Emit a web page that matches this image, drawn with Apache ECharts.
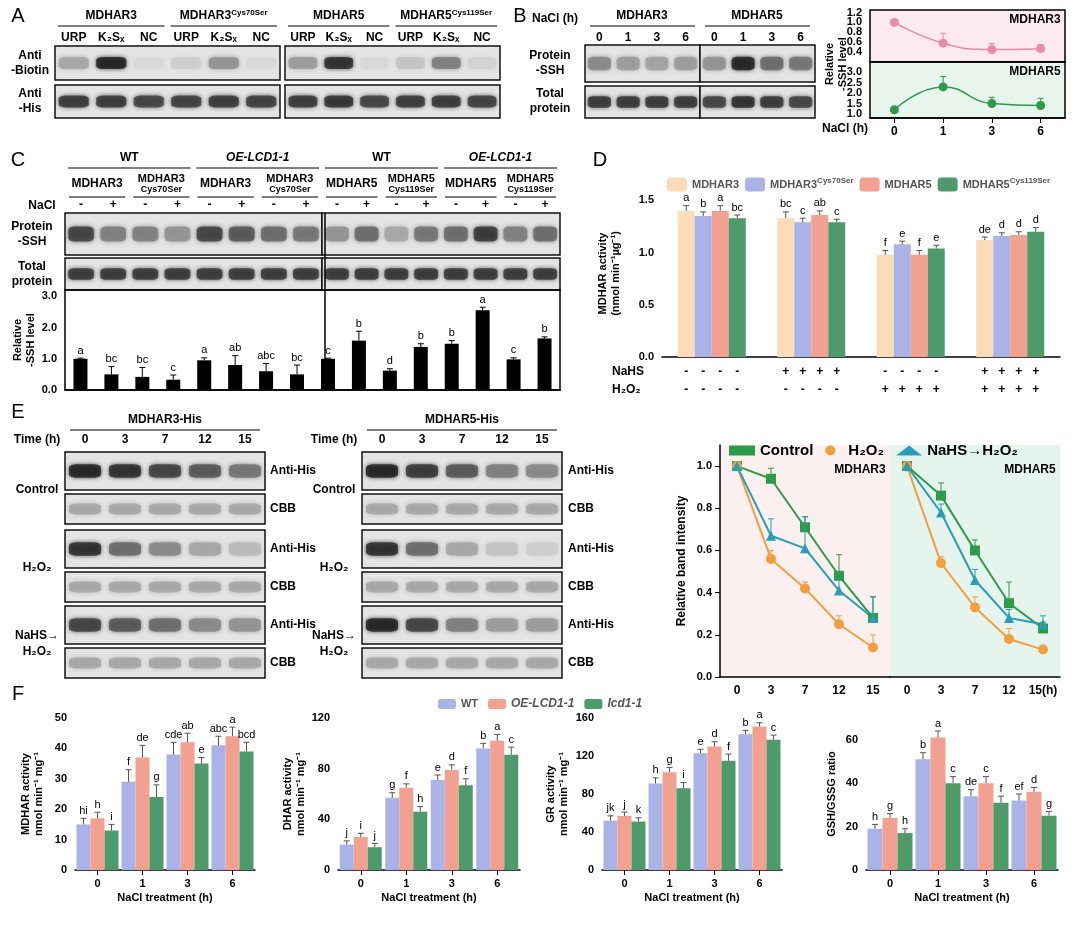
<!DOCTYPE html>
<html>
<head>
<meta charset="UTF-8">
<script src="https://cdn.jsdelivr.net/npm/echarts@6/dist/echarts.min.js"></script>
<style>
body{margin:0;background:#fff}
#main{width:1080px;height:926px}
</style>
</head>
<body>
<div id="main"></div>
<script>
// ---------- data ----------
// A: band intensity (0-1) per lane
var aBiotin1 = [0.30, 0.95, 0.05, 0.10, 0.40, 0.05];
var aBiotin2 = [0.35, 0.90, 0.05, 0.15, 0.50, 0.08];
var aHis1 = [0.85, 0.85, 0.80, 0.82, 0.85, 0.82];
var aHis2 = [0.85, 0.88, 0.80, 0.84, 0.85, 0.82];
// B
var bSSH1 = [0.45, 0.35, 0.32, 0.35];
var bSSH2 = [0.40, 0.95, 0.60, 0.55];
var bTotal1 = [0.85, 0.85, 0.85, 0.85];
var bTotal2 = [0.80, 0.90, 0.85, 0.80];
var bTime = ['0', '1', '3', '6'];
var bM3 = [1.0, 0.58, 0.45, 0.47];
var bM3err = [0.05, 0.2, 0.12, 0.08];
var bM5 = [1.2, 2.3, 1.5, 1.4];
var bM5err = [0.1, 0.5, 0.3, 0.35];
// C
var cSSH1 = [0.80, 0.50, 0.50, 0.40, 0.80, 0.70, 0.60, 0.55];
var cSSH2 = [0.40, 0.60, 0.30, 0.55, 0.60, 0.85, 0.50, 0.60];
var cTotal1 = [0.85, 0.85, 0.85, 0.85, 0.85, 0.85, 0.85, 0.85];
var cTotal2 = [0.85, 0.85, 0.85, 0.85, 0.85, 0.85, 0.85, 0.85];
var cVals = [1.0, 0.5, 0.42, 0.33, 0.95, 0.8, 0.6, 0.5, 1.0, 1.58, 0.62, 1.38, 1.48, 2.55, 0.98, 1.65];
var cErr = [0.02, 0.25, 0.3, 0.15, 0.08, 0.3, 0.25, 0.3, 0.02, 0.3, 0.06, 0.1, 0.1, 0.1, 0.05, 0.05];
var cLet = ['a','bc','bc','c','a','ab','abc','bc','c','b','d','b','b','a','c','b'];
// D
var dNames = ['MDHAR3', 'MDHAR3Cys70Ser', 'MDHAR5', 'MDHAR5Cys119Ser'];
var dVals = [[1.40,1.33,0.98,1.12],[1.35,1.29,1.08,1.16],[1.40,1.36,0.98,1.17],[1.33,1.29,1.04,1.20]];
var dErr = [[0.05,0.06,0.04,0.03],[0.04,0.04,0.03,0.03],[0.05,0.04,0.04,0.03],[0.03,0.03,0.03,0.04]];
var dLet = [['a','bc','f','de'],['b','c','e','d'],['a','ab','f','d'],['bc','c','e','d']];
var dNaHS = ['-','-','-','-','+','+','+','+','-','-','-','-','+','+','+','+'];
var dH2O2 = ['-','-','-','-','-','-','-','-','+','+','+','+','+','+','+','+'];
// E
var eTime = ['0', '3', '7', '12', '15'];
var eBlotL = {ctl: [0.95,0.90,0.80,0.70,0.55], h2o2: [0.90,0.60,0.45,0.30,0.20], nahs: [0.80,0.70,0.60,0.45,0.40]};
var eBlotR = {ctl: [0.95,0.85,0.70,0.50,0.45], h2o2: [0.90,0.60,0.30,0.15,0.10], nahs: [0.95,0.80,0.50,0.35,0.35]};
var eCBB = [0.30, 0.30, 0.30, 0.30, 0.30];
var e3 = {ctl: [1,0.94,0.71,0.48,0.28], h2o2: [1,0.56,0.42,0.25,0.14], nahs: [1,0.67,0.61,0.41,0.28]};
var e3err = {ctl: [0,0.05,0.05,0.1,0.1], h2o2: [0,0.04,0.03,0.04,0.06], nahs: [0,0.08,0.15,0.05,0.1]};
var e5 = {ctl: [1,0.86,0.60,0.35,0.23], h2o2: [1,0.54,0.33,0.18,0.13], nahs: [1,0.78,0.46,0.28,0.25]};
var e5err = {ctl: [0,0.06,0.05,0.1,0.03], h2o2: [0,0.03,0.05,0.05,0.02], nahs: [0,0.04,0.05,0.04,0.04]};
// F
var fTime = ['0', '1', '3', '6'];
var fNames = ['WT', 'OE-LCD1-1', 'lcd1-1'];
var fMDHAR = [[15,29,38,41],[17,37,42,44],[13,24,35,39]];
var fMDHARerr = [[2,4,4,3],[2,4,3,3],[2,4,2,3]];
var fMDHARlet = [['hi','f','cde','abc'],['h','de','ab','a'],['i','g','e','bcd']];
var fDHAR = [[20,57,71,96],[26,65,79,102],[18,46,67,91]];
var fDHARerr = [[3,4,4,4],[3,3,4,5],[3,4,5,6]];
var fDHARlet = [['j','g','e','b'],['i','f','d','a'],['j','h','f','c']];
var fGR = [[52,91,123,143],[57,103,130,151],[51,86,115,137]];
var fGRerr = [[5,6,4,4],[4,5,5,4],[4,6,7,5]];
var fGRlet = [['jk','h','e','b'],['j','g','d','a'],['k','i','f','c']];
var fGSH = [[19,51,34,32],[24,61,40,36],[17,40,31,25]];
var fGSHerr = [[2,3,3,3],[2,3,3,2],[2,3,3,2]];
var fGSHlet = [['h','b','de','ef'],['g','a','c','d'],['h','c','f','g']];

var dColors = ['#FADCB8', '#A9B3E8', '#F2A090', '#4E9A6A'];
var fColors = ['#A9B3E8', '#F2A090', '#4E9A6A'];

// ---------- helpers ----------
var opt = {animation: false, textStyle: {fontFamily: 'Arial'}, grid: [], xAxis: [], yAxis: [], series: [], graphic: [], legend: []};
var sup = {s: {fontSize: 8, fontWeight: 'bold', padding: [0, 0, 7, 0]}, i: {fontStyle: 'italic', fontWeight: 'bold', fontSize: 12}};

function grid(l, t, w, h, extra) {
  opt.grid.push(Object.assign({left: l, top: t, width: w, height: h}, extra || {}));
  return opt.grid.length - 1;
}
function txt(x, y, s, o, rot) {
  opt.graphic.push({type: 'text', x: x, y: y, z: 10, rotation: rot || 0, style: Object.assign({text: s, font: 'bold 12px Arial', fill: '#000', textAlign: 'center', textVerticalAlign: 'middle', rich: sup}, o || {})});
}
function line(x1, y1, x2, y2, w) {
  opt.graphic.push({type: 'line', z: 10, shape: {x1: x1, y1: y1, x2: x2, y2: y2}, style: {stroke: '#000', lineWidth: w || 1.2}});
}
function gray(v) { var c = Math.round(225 - v * 205); return 'rgb(' + c + ',' + c + ',' + c + ')'; }
function blot(l, t, w, h, vals) {
  var g = grid(l, t, w, h, {show: true, borderColor: '#111', borderWidth: 1.5, backgroundColor: '#e4e4e4'});
  opt.xAxis.push({gridIndex: g, type: 'category', data: vals.map(function (v, i) { return i; }), show: false});
  opt.yAxis.push({gridIndex: g, type: 'value', min: 0, max: 1, show: false});
  opt.series.push({type: 'scatter', xAxisIndex: g, yAxisIndex: g, symbol: 'roundRect', silent: true,
    symbolSize: [w / vals.length * 0.8, h * 0.36],
    data: vals.map(function (v, i) { return {value: [i, 0.5], itemStyle: {color: gray(v), shadowBlur: 4, shadowColor: gray(v)}}; })});
}
function errSeries(g, vals, errs, lets, off, color) {
  opt.series.push({type: 'custom', xAxisIndex: g, yAxisIndex: g, z: 5, silent: true,
    data: vals.map(function (v, i) { return [i, v, errs[i]]; }),
    renderItem: function (p, api) {
      var b = api.coord([api.value(0), api.value(1)]);
      var t = api.coord([api.value(0), api.value(1) + api.value(2)]);
      var x = b[0] + off, ch = [];
      if (api.value(2) > 0) {
        ch.push({type: 'line', shape: {x1: x, y1: b[1], x2: x, y2: t[1]}, style: {stroke: color || '#000', lineWidth: 1}});
        ch.push({type: 'line', shape: {x1: x - 3, y1: t[1], x2: x + 3, y2: t[1]}, style: {stroke: color || '#000', lineWidth: 1}});
      }
      if (lets) ch.push({type: 'text', x: x, y: t[1] - 2, style: {text: lets[p.dataIndex], fill: '#000', font: '11px Arial', textAlign: 'center', textVerticalAlign: 'bottom'}});
      return {type: 'group', children: ch};
    }});
}
function axisStyle() {
  return {axisLine: {lineStyle: {color: '#000', width: 1.5}}, axisTick: {inside: false, lineStyle: {color: '#000'}}, axisLabel: {color: '#000', fontWeight: 'bold', fontSize: 11}, splitLine: {show: false}};
}
function barChart(rect, cats, vals, errs, lets, colors, names, ymin, ymax, step, yName, yGap, barW, xLabels, xName) {
  var g = grid(rect[0], rect[1], rect[2], rect[3]);
  opt.xAxis.push(Object.assign(axisStyle(), {gridIndex: g, type: 'category', data: cats, axisTick: {show: !!xLabels, alignWithLabel: true, lineStyle: {color: '#000'}}, axisLabel: {show: !!xLabels, color: '#000', fontWeight: 'bold', fontSize: 11}, name: xName || '', nameLocation: 'middle', nameGap: 22, nameTextStyle: {fontWeight: 'bold', fontSize: 11}}));
  opt.yAxis.push(Object.assign(axisStyle(), {gridIndex: g, type: 'value', min: ymin, max: ymax, interval: step, name: yName, nameLocation: 'middle', nameGap: yGap, nameTextStyle: {fontWeight: 'bold', fontSize: 11, lineHeight: 13},
    axisLabel: {color: '#000', fontWeight: 'bold', fontSize: 11, showMaxLabel: ymax % step == 0}}));
  var n = vals.length;
  vals.forEach(function (v, k) {
    opt.series.push({type: 'bar', name: names ? names[k] : undefined, xAxisIndex: g, yAxisIndex: g, data: v, barWidth: barW, barGap: '0%', itemStyle: {color: colors[k]}});
    errSeries(g, v, errs[k], lets[k], (k - (n - 1) / 2) * barW, '#555');
  });
  return g;
}

// ---------- panel letters ----------
[['A', 18, 16], ['B', 520, 16], ['C', 18, 160], ['D', 600, 160], ['E', 18, 412], ['F', 18, 694]].forEach(function (p) {
  txt(p[1], p[2], p[0], {font: '20px Arial'});
});

// ---------- A ----------
[[55, 225, aBiotin1, aHis1, ['MDHAR3', 'MDHAR3{s|Cys70Ser}']], [285, 215, aBiotin2, aHis2, ['MDHAR5', 'MDHAR5{s|Cys119Ser}']]].forEach(function (a) {
  blot(a[0], 46, a[1], 34, a[2]);
  blot(a[0], 85, a[1], 33, a[3]);
  var lw = a[1] / 6;
  ['URP', 'K₂Sₓ', 'NC', 'URP', 'K₂Sₓ', 'NC'].forEach(function (s, i) { txt(a[0] + lw * (i + 0.5), 38, s); });
  txt(a[0] + lw * 1.5, 16, a[4][0]); line(a[0] + 3, 26, a[0] + lw * 3 - 3, 26);
  txt(a[0] + lw * 4.5, 16, a[4][1]); line(a[0] + lw * 3 + 3, 26, a[0] + a[1] - 3, 26);
});
txt(30, 63, 'Anti\n-Biotin', {lineHeight: 15});
txt(30, 101, 'Anti\n-His', {lineHeight: 15});

// ---------- B ----------
blot(585, 45, 115, 37, bSSH1); blot(700, 45, 115, 37, bSSH2);
blot(585, 86, 115, 32, bTotal1); blot(700, 86, 115, 32, bTotal2);
txt(555, 19, 'NaCl (h)');
txt(642, 16, 'MDHAR3'); line(590, 26, 695, 26);
txt(757, 16, 'MDHAR5'); line(705, 26, 810, 26);
bTime.concat(bTime).forEach(function (s, i) { txt(585 + 230 / 8 * (i + 0.5), 38, s); });
txt(550, 63, 'Protein\n-SSH', {lineHeight: 15});
txt(550, 101, 'Total\nprotein', {lineHeight: 15});
var gB1 = grid(870, 10, 195, 52, {show: true, backgroundColor: '#FCEAEF', borderColor: '#000', borderWidth: 1.5});
var gB2 = grid(870, 62, 195, 56, {show: true, backgroundColor: '#E8F5EC', borderColor: '#000', borderWidth: 1.5});
[[gB1, 0.2, 1.25, bM3, bM3err, '#E98AA6', 'MDHAR3', 0.5], [gB2, 0.8, 3.5, bM5, bM5err, '#2E9B4A', 'MDHAR5', 1.5]].forEach(function (b) {
  opt.xAxis.push(Object.assign(axisStyle(), {gridIndex: b[0], type: 'category', data: bTime, boundaryGap: true, axisLabel: {show: b[0] == gB2, color: '#000', fontWeight: 'bold', fontSize: 12}, axisTick: {show: b[0] == gB2, alignWithLabel: true}}));
  opt.yAxis.push(Object.assign(axisStyle(), {gridIndex: b[0], type: 'value', min: b[1], max: b[2],
    axisLabel: {color: '#000', fontWeight: 'bold', fontSize: 11, showMinLabel: false, showMaxLabel: false, formatter: function (v) { return v.toFixed(1); }}}));
  opt.series.push({type: 'line', xAxisIndex: b[0], yAxisIndex: b[0], data: b[3], smooth: true, symbol: 'circle', symbolSize: 9, lineStyle: {color: b[5], width: 1.5}, itemStyle: {color: b[5]}});
  errSeries(b[0], b[3], b[4], null, 0, b[5]);
  txt(1035, b[0] == gB1 ? 20 : 72, b[6]);
});
opt.series.push({type: 'scatter', xAxisIndex: gB1, yAxisIndex: gB1, symbol: 'none', data: [[2, 0.62], [3, 0.62]], label: {show: true, formatter: '*', color: '#E98AA6', fontSize: 20, fontWeight: 'bold'}});
txt(836, 64, 'Relative\n-SSH level', {lineHeight: 13, font: 'bold 11px Arial'}, Math.PI / 2);
txt(845, 129, 'NaCl (h)');

// ---------- C ----------
blot(65, 213, 257, 42, cSSH1); blot(322, 213, 238, 42, cSSH2);
blot(65, 258, 257, 32, cTotal1); blot(322, 258, 238, 32, cTotal2);
var cLw1 = 257 / 8, cLw2 = 238 / 8;
[[65, cLw1, 'MDHAR3', 'Cys70Ser'], [322, cLw2, 'MDHAR5', 'Cys119Ser']].forEach(function (c) {
  txt(c[0] + c[1] * 2, 158, 'WT'); line(c[0] + 3, 168, c[0] + c[1] * 4 - 3, 168);
  txt(c[0] + c[1] * 6, 158, 'OE-LCD1-1', {font: 'italic bold 12px Arial'}); line(c[0] + c[1] * 4 + 3, 168, c[0] + c[1] * 8 - 3, 168);
  for (var k = 0; k < 4; k++) {
    var cx = c[0] + c[1] * (2 * k + 1);
    if (k % 2 == 0) txt(cx, 184, c[2]);
    else { txt(cx, 179, c[2], {font: 'bold 11px Arial'}); txt(cx, 190, c[3], {font: 'bold 9px Arial'}); }
    line(cx - c[1] + 4, 197, cx + c[1] - 4, 197);
    txt(cx - c[1] / 2, 205, '-'); txt(cx + c[1] / 2, 205, '+');
  }
});
txt(42, 206, 'NaCl');
txt(32, 234, 'Protein\n-SSH', {lineHeight: 15});
txt(32, 274, 'Total\nprotein', {lineHeight: 15});
var gC = grid(65, 290, 495, 100, {show: true, borderColor: '#000', borderWidth: 1.5});
opt.xAxis.push({gridIndex: gC, type: 'category', data: cVals.map(function (v, i) { return i; }), axisLabel: {show: false}, axisTick: {show: false}, axisLine: {lineStyle: {color: '#000', width: 1.5}}});
opt.yAxis.push(Object.assign(axisStyle(), {gridIndex: gC, type: 'value', min: 0, max: 3.2, interval: 1, axisLabel: {color: '#000', fontWeight: 'bold', fontSize: 11, showMaxLabel: false, formatter: function (v) { return v.toFixed(1); }}, name: 'Relative\n-SSH level', nameLocation: 'middle', nameGap: 24, nameTextStyle: {fontWeight: 'bold', fontSize: 11, lineHeight: 13}}));
opt.series.push({type: 'bar', xAxisIndex: gC, yAxisIndex: gC, data: cVals, barWidth: 14, itemStyle: {color: '#000'}});
errSeries(gC, cVals, cErr, cLet, 0, '#000');
line(325, 213, 325, 390, 1.5);

// ---------- D ----------
var dL = 662, dW = 398;
barChart([dL, 190, dW, 167], ['g1', 'g2', 'g3', 'g4'], dVals, dErr, dLet, dColors, dNames, 0, 1.6, 0.5, 'MDHAR activity\n(nmol min⁻¹µg⁻¹)', 40, 17, false);
opt.yAxis[opt.yAxis.length - 1].axisLabel.formatter = function (v) { return v.toFixed(1); };
opt.legend.push({data: dNames, left: 662, top: 172, itemWidth: 20, itemHeight: 14, itemGap: 6, textStyle: {fontWeight: 'bold', fontSize: 11, rich: sup},
  formatter: function (n) { return n.replace(/(Cys\d+Ser)/, '{s|$1}'); }});
txt(612, 372, 'NaHS', {textAlign: 'left'});
txt(612, 390, 'H₂O₂', {textAlign: 'left'});
dNaHS.forEach(function (s, i) {
  var gi = Math.floor(i / 4), k = i % 4;
  var x = dL + dW / 4 * (gi + 0.5) + (k - 1.5) * 17;
  txt(x, 372, s); txt(x, 390, dH2O2[i]);
});

// ---------- E ----------
[[65, eBlotL, 'MDHAR3-His', 270], [362, eBlotR, 'MDHAR5-His', 568]].forEach(function (e) {
  var w = 200, lw = w / 5;
  txt(e[0] + w / 2, 420, e[2]); line(e[0] + 5, 430, e[0] + w - 5, 430);
  txt(e[0] - 28, 440, 'Time (h)');
  eTime.forEach(function (s, i) { txt(e[0] + lw * (i + 0.5), 440, s); });
  [['ctl', 452], ['h2o2', 530], ['nahs', 606]].forEach(function (r) {
    blot(e[0], r[1], w, 38, e[1][r[0]]);
    blot(e[0], r[1] + 42, w, 30, eCBB);
    txt(e[3], r[1] + 19, 'Anti-His', {textAlign: 'left'});
    txt(e[3], r[1] + 57, 'CBB', {textAlign: 'left'});
  });
  txt(e[0] - 28, 490, 'Control');
  txt(e[0] - 28, 568, 'H₂O₂');
  txt(e[0] - 28, 644, 'NaHS→\nH₂O₂', {lineHeight: 16});
});
var eNames = ['Control', 'H₂O₂', 'NaHS→H₂O₂'];
var eColors = ['#2E9B4A', '#F0A040', '#2A9DB8'];
var eSym = ['rect', 'circle', 'triangle'];
var eKeys = ['ctl', 'h2o2', 'nahs'];
[[720, e3, e3err, 'MDHAR3', '#FBEFEF'], [890, e5, e5err, 'MDHAR5', '#E6F4EE']].forEach(function (p, j) {
  var g = grid(p[0], 445, 170, 232, {show: true, backgroundColor: p[4], borderWidth: 0});
  opt.xAxis.push(Object.assign(axisStyle(), {gridIndex: g, type: 'category', data: eTime, boundaryGap: true,
    axisLabel: {interval: 0, color: '#000', fontWeight: 'bold', fontSize: 12, formatter: function (v) { return (j == 1 && v == '15') ? '15(h)' : v; }}, axisTick: {alignWithLabel: true, interval: 0}}));
  opt.yAxis.push(Object.assign(axisStyle(), {gridIndex: g, type: 'value', min: 0, max: 1.1, interval: 0.2, axisLine: {show: j == 0, lineStyle: {color: '#000', width: 1.5}}, axisTick: {show: j == 0},
    axisLabel: {show: j == 0, showMaxLabel: false, color: '#000', fontWeight: 'bold', fontSize: 11, formatter: function (v) { return v.toFixed(1); }},
    name: j == 0 ? 'Relative band intensity' : '', nameLocation: 'middle', nameGap: 32, nameTextStyle: {fontWeight: 'bold', fontSize: 12}}));
  eKeys.forEach(function (k, i) {
    opt.series.push({type: 'line', name: eNames[i], xAxisIndex: g, yAxisIndex: g, data: p[1][k], symbol: eSym[i], symbolSize: 10, lineStyle: {color: eColors[i], width: 2}, itemStyle: {color: eColors[i]}});
    errSeries(g, p[1][k], p[2][k], null, 0, eColors[i]);
  });
  txt(p[0] + 140, 470, p[3]);
});
opt.legend.push({data: eNames.map(function (n, i) { return {name: n, icon: eSym[i]}; }), left: 724, top: 438, itemWidth: 26, itemHeight: 10, itemGap: 12, textStyle: {fontWeight: 'bold', fontSize: 15, color: '#000'}});

// ---------- F ----------
var fX = fTime;
barChart([75, 718, 180, 152], fX, fMDHAR, fMDHARerr, fMDHARlet, fColors, fNames, 0, 50, 10, 'MDHAR activity\nnmol min⁻¹ mg⁻¹', 30, 14, true, 'NaCl treatment (h)');
barChart([338, 718, 182, 152], fX, fDHAR, fDHARerr, fDHARlet, fColors, fNames, 0, 120, 40, 'DHAR activity\nnmol min⁻¹ mg⁻¹', 30, 14, true, 'NaCl treatment (h)');
barChart([602, 718, 180, 152], fX, fGR, fGRerr, fGRlet, fColors, fNames, 0, 160, 40, 'GR activity\nnmol min⁻¹ mg⁻¹', 32, 14, true, 'NaCl treatment (h)');
barChart([866, 718, 192, 152], fX, fGSH, fGSHerr, fGSHlet, fColors, fNames, 0, 70, 20, 'GSH/GSSG ratio', 28, 15, true, 'NaCl treatment (h)');
opt.legend.push({data: fNames, left: 'center', top: 693, itemWidth: 18, itemHeight: 10, itemGap: 10, textStyle: {fontWeight: 'bold', fontSize: 11, rich: sup},
  formatter: function (n) { return n == 'WT' ? n : '{i|' + n + '}'; }});

var chart = echarts.init(document.getElementById('main'));
chart.setOption(opt);
</script>
</body>
</html>
